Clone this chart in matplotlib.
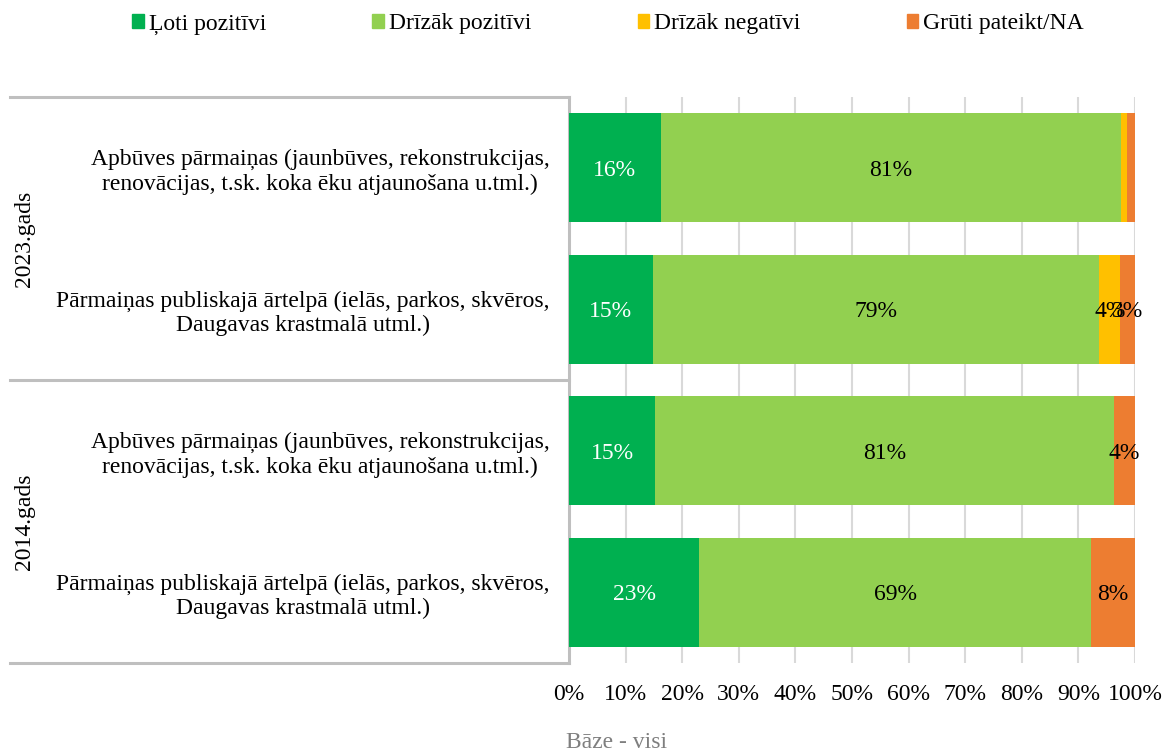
import matplotlib.pyplot as plt
from matplotlib.patches import Patch
from matplotlib.ticker import PercentFormatter

plt.rcParams['font.family'] = ['Liberation Serif', 'DejaVu Serif']

# data (percent), top to bottom
items = [
    'Apbūves pārmaiņas (jaunbūves, rekonstrukcijas,\nrenovācijas, t.sk. koka ēku atjaunošana u.tml.)',
    'Pārmaiņas publiskajā ārtelpā (ielās, parkos, skvēros,\nDaugavas krastmalā utml.)',
    'Apbūves pārmaiņas (jaunbūves, rekonstrukcijas,\nrenovācijas, t.sk. koka ēku atjaunošana u.tml.)',
    'Pārmaiņas publiskajā ārtelpā (ielās, parkos, skvēros,\nDaugavas krastmalā utml.)',
]
groups = ['2023.gads', '2014.gads']
group_size = [2, 2]

series = ['Ļoti pozitīvi', 'Drīzāk pozitīvi', 'Drīzāk negatīvi', 'Grūti pateikt/NA']
loti_poz = [16.2, 14.8, 15.2, 23.0]
drizak_poz = [81.4, 78.9, 81.1, 69.2]
drizak_neg = [1.0, 3.7, 0.0, 0.0]
gruti = [1.4, 2.6, 3.7, 7.8]

colors = ['#00B050', '#92D050', '#FFC000', '#ED7D31']
label_colors = ['white', 'black', 'black', 'black']
FS = 17

fig = plt.figure(figsize=(11.64, 7.56), dpi=100)
ax = fig.add_axes([569 / 1164, 1 - 663 / 756, 566 / 1164, 566 / 756])

y = list(range(len(items)))
left = [0.0] * len(items)
for vals, name, col, lc in zip([loti_poz, drizak_poz, drizak_neg, gruti], series, colors, label_colors):
    bars = ax.barh(y, vals, left=left, height=0.77, color=col, label=name, zorder=3)
    for b, v, l0 in zip(bars, vals, left):
        # Excel leaves the ~1% slices unlabelled
        if v >= 2:
            ax.text(l0 + v / 2, b.get_y() + b.get_height() / 2, f'{round(v)}%',
                    ha='center', va='center_baseline', color=lc, fontsize=FS, zorder=4)
    left = [a + b for a, b in zip(left, vals)]

ax.set_xlim(0, 100)
ax.set_ylim(len(items) - 0.5, -0.5)
ax.set_xticks(range(0, 101, 10))
ax.xaxis.set_major_formatter(PercentFormatter(decimals=0))
ax.tick_params(axis='x', length=0, labelsize=FS, pad=15)
ax.grid(axis='x', color='#D9D9D9', linewidth=1.5, zorder=0)
ax.set_yticks(y)
ax.set_yticklabels(items, fontsize=FS, multialignment='center')
ax.tick_params(axis='y', length=0, pad=14)
for s in ['top', 'right', 'bottom']:
    ax.spines[s].set_visible(False)
ax.spines['left'].set_color('#BFBFBF')
ax.spines['left'].set_linewidth(2.2)

# group axis lines and labels
tr = ax.get_yaxis_transform()
x_far = (10 - 569) / 566
start = -0.5
ax.plot([x_far, 0], [start, start], color='#BFBFBF', lw=2.2, transform=tr, clip_on=False)
for g, n in zip(groups, group_size):
    end = start + n
    ax.plot([x_far, 0], [end, end], color='#BFBFBF', lw=2.2, transform=tr, clip_on=False)
    ax.text((25 - 569) / 566, (start + end) / 2, g, rotation=90, ha='center', va='center',
            fontsize=FS, transform=tr)
    start = end

handles = [Patch(color=c) for c in colors]
fig.legend(handles, series, loc='center', bbox_to_anchor=(608 / 1164, 1 - 24 / 756), ncol=4,
           frameon=False, fontsize=FS, handlelength=0.5, handleheight=0.5,
           handletextpad=0.2, columnspacing=4.5, borderpad=0)

fig.text(617 / 1164, 1 - 743 / 756, 'Bāze - visi', ha='center', va='center', fontsize=FS, color='#7F7F7F')

fig.savefig('out.png', dpi=100)
